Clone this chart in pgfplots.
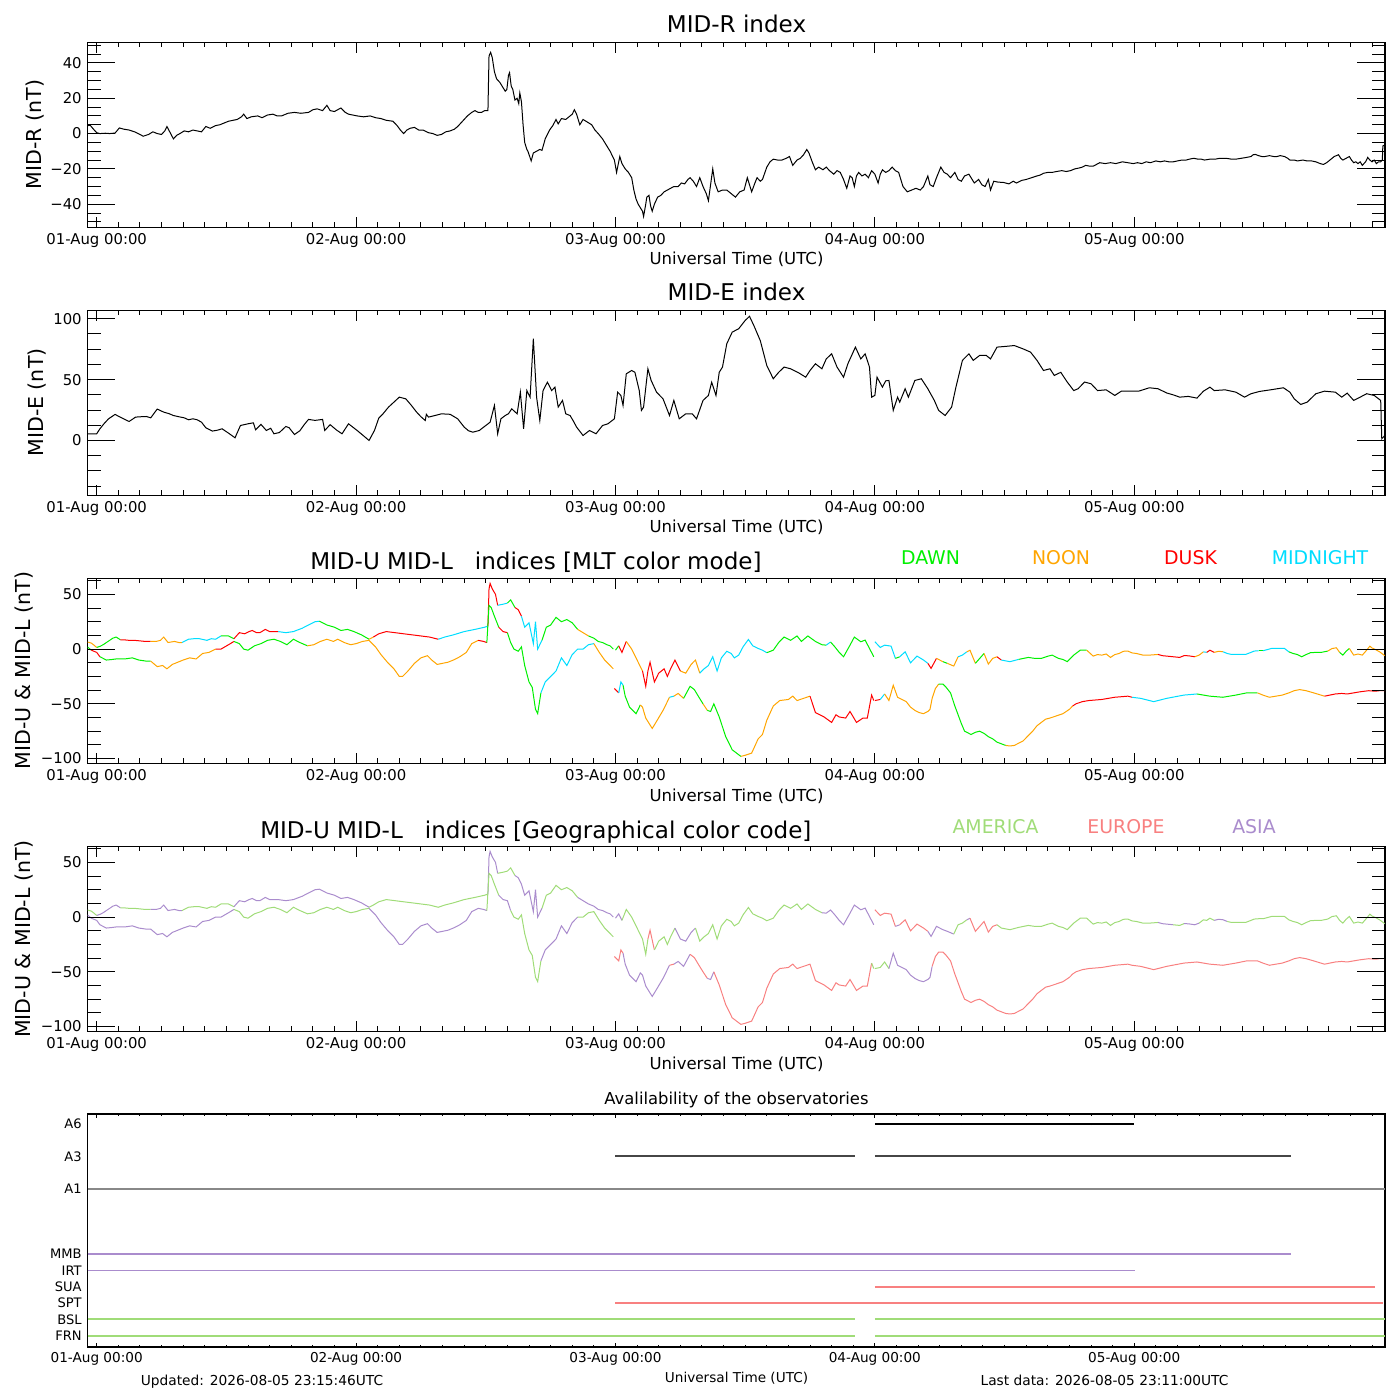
\documentclass[border=0pt]{standalone}
\usepackage{fontspec}
\setmainfont{DejaVu Sans}
\usepackage{pgfplots}
\pgfplotsset{compat=1.18}
\usepackage{pgfplotstable}
\definecolor{dawn}{RGB}{0,240,0}
\definecolor{noon}{RGB}{255,165,0}
\definecolor{dusk}{RGB}{255,0,0}
\definecolor{midnight}{RGB}{0,221,255}
\definecolor{america}{RGB}{160,220,120}
\definecolor{europe}{RGB}{248,128,128}
\definecolor{asia}{RGB}{170,140,205}
\definecolor{athree}{RGB}{70,70,70}
\definecolor{aone}{RGB}{136,136,136}

\pgfplotstableread{
h v
-0.85 4.5
-0.6 4.7
-0.3 2.5
0.0 0.5
0.3 0.0
0.8 0.2
1.2 0.0
1.7 0.3
2.1 3.2
2.5 2.5
3.0 2.0
3.5 1.0
4.0 -0.5
4.3 -1.5
4.8 -0.5
5.2 1.0
5.6 0.0
6.0 -0.5
6.3 1.5
6.5 4.0
6.8 0.5
7.1 -3.0
7.4 -1.0
7.7 0.0
8.1 1.5
8.5 1.0
8.9 2.0
9.3 1.5
9.7 1.0
10.1 4.0
10.5 3.0
11.0 4.5
11.4 5.0
11.8 6.0
12.2 7.0
12.6 7.5
13.0 8.0
13.4 9.5
13.6 11.0
13.9 8.5
14.3 9.5
14.9 10.0
15.3 9.0
15.8 10.5
16.3 11.0
16.7 10.0
17.1 10.0
17.7 11.5
18.3 12.0
18.9 11.5
19.6 12.0
20.0 13.5
20.4 14.0
20.9 13.0
21.3 16.0
21.6 13.0
22.0 12.5
22.6 14.5
23.0 12.0
23.3 11.0
23.7 10.5
24.1 10.0
24.7 9.5
25.3 10.0
25.8 9.0
26.3 8.5
26.8 7.5
27.4 7.0
27.8 4.5
28.1 2.0
28.4 0.0
28.7 2.0
29.0 3.0
29.4 3.5
29.8 2.0
30.2 2.0
30.7 0.5
31.1 0.0
31.5 -1.0
31.9 -0.5
32.3 1.0
32.7 1.5
33.1 2.5
33.4 4.0
33.7 6.0
34.0 8.0
34.3 10.0
34.7 12.0
35.0 13.0
35.3 12.0
35.6 12.0
35.9 13.0
36.2 13.0
36.3 44.0
36.45 46.0
36.6 43.0
36.8 35.0
37.0 31.0
37.3 29.0
37.5 27.0
37.8 24.0
37.95 25.0
38.1 33.0
38.2 34.5
38.35 27.0
38.5 25.0
38.7 19.0
38.9 20.0
39.05 17.0
39.15 23.0
39.3 18.0
39.45 5.0
39.6 -5.0
39.8 -9.0
39.9 -10.0
40.2 -15.5
40.4 -11.0
40.7 -10.0
41.0 -9.0
41.2 -9.5
41.5 -3.0
41.9 2.0
42.2 4.5
42.5 8.0
42.7 5.5
43.0 8.5
43.4 8.0
43.8 10.0
44.0 11.0
44.2 13.5
44.4 11.0
44.7 5.0
45.0 8.0
45.4 6.5
45.8 5.0
46.1 2.0
46.4 0.0
46.8 -3.0
47.1 -6.0
47.5 -10.0
47.9 -15.0
48.1 -22.0
48.4 -13.0
48.6 -17.0
48.9 -20.0
49.2 -22.0
49.5 -25.0
49.7 -32.0
49.9 -37.0
50.1 -40.0
50.3 -42.0
50.5 -44.0
50.6 -47.0
50.8 -40.0
50.9 -36.0
51.1 -35.0
51.25 -41.0
51.4 -44.0
51.6 -40.0
51.9 -36.0
52.2 -35.0
52.5 -33.0
52.8 -32.0
53.1 -31.0
53.4 -30.0
53.8 -30.0
54.1 -28.0
54.4 -28.5
54.7 -26.0
54.9 -25.0
55.2 -27.0
55.5 -30.0
55.8 -25.0
56.1 -30.0
56.4 -34.0
56.6 -38.0
56.8 -29.0
57.0 -20.0
57.2 -28.0
57.5 -33.0
57.9 -32.0
58.3 -32.0
58.7 -34.0
59.1 -36.0
59.5 -33.0
59.9 -32.0
60.2 -25.0
60.4 -29.0
60.6 -33.0
60.9 -28.0
61.1 -25.0
61.4 -27.0
61.6 -26.0
62.0 -19.0
62.3 -16.0
62.6 -14.5
63.0 -15.0
63.4 -15.0
63.8 -14.0
64.1 -13.0
64.4 -18.0
64.8 -15.0
65.1 -14.0
65.4 -12.0
65.7 -9.0
65.9 -11.0
66.2 -16.0
66.5 -20.5
66.8 -19.0
67.2 -20.5
67.5 -19.0
67.8 -21.0
68.2 -23.0
68.5 -21.0
68.8 -22.0
69.1 -26.0
69.4 -31.0
69.7 -24.0
69.9 -25.0
70.1 -30.0
70.3 -24.0
70.5 -22.0
70.8 -24.0
71.1 -23.0
71.4 -25.0
71.7 -21.0
72.0 -23.0
72.3 -28.0
72.5 -23.0
72.7 -20.5
73.0 -22.0
73.3 -21.0
73.6 -19.0
73.9 -21.0
74.2 -22.0
74.4 -26.0
74.6 -30.0
75.0 -33.0
75.4 -32.0
75.8 -31.0
76.2 -32.0
76.5 -30.0
76.9 -24.0
77.1 -29.0
77.4 -30.0
77.7 -25.0
78.1 -19.0
78.4 -22.0
78.7 -23.0
79.0 -25.0
79.4 -22.0
79.7 -26.0
80.0 -27.0
80.3 -24.0
80.7 -23.0
81.0 -26.0
81.2 -28.0
81.6 -26.0
81.9 -29.0
82.2 -30.0
82.5 -26.0
82.7 -32.0
83.0 -27.0
83.4 -27.5
83.9 -27.7
84.4 -28.5
84.8 -27.0
85.1 -28.0
85.6 -26.5
86.0 -26.0
86.5 -25.0
87.0 -24.0
87.3 -23.5
87.6 -22.5
88.0 -22.0
88.4 -22.0
88.8 -21.5
89.3 -21.0
89.7 -21.5
90.1 -21.0
90.5 -20.0
90.9 -19.5
91.2 -19.0
91.5 -18.0
91.9 -18.5
92.2 -18.5
92.5 -17.5
92.8 -16.5
93.3 -17.0
93.8 -16.5
94.3 -17.0
94.9 -16.0
95.4 -16.5
95.9 -17.0
96.3 -16.5
96.7 -17.0
97.1 -16.0
97.5 -16.5
98.0 -15.5
98.4 -16.0
98.8 -15.5
99.2 -16.0
99.6 -16.0
100.0 -15.5
100.4 -15.0
100.8 -15.0
101.1 -14.5
101.5 -14.0
101.9 -14.5
102.2 -14.5
102.5 -15.0
103.0 -14.5
103.5 -14.5
103.9 -14.0
104.5 -14.0
105.0 -14.5
105.4 -14.5
105.9 -14.0
106.4 -13.5
106.8 -13.0
107.0 -12.0
107.2 -11.8
107.5 -12.5
107.8 -13.0
108.1 -13.0
108.5 -12.5
108.9 -13.0
109.2 -13.0
109.5 -12.5
109.9 -13.0
110.2 -14.0
110.4 -15.0
110.8 -15.0
111.1 -15.5
111.6 -15.0
112.0 -15.5
112.4 -15.5
112.8 -16.0
113.2 -17.0
113.5 -17.5
113.8 -16.5
114.1 -15.0
114.5 -13.0
114.9 -12.0
115.1 -14.0
115.3 -15.0
115.6 -14.0
115.9 -13.0
116.1 -15.0
116.3 -16.5
116.5 -16.0
116.7 -17.0
116.9 -16.0
117.1 -18.0
117.4 -16.0
117.6 -13.5
117.8 -15.0
118.0 -16.0
118.2 -15.0
118.4 -17.0
118.6 -16.0
118.8 -16.0
118.95 -15.0
119.0 -7.0
119.18 -6.5
}\Rtab

\pgfplotstableread{
h v
-0.85 5.5
0.0 5.5
0.3 9.6
0.7 14
1.1 17.8
1.7 21.4
2.3 18.6
3.0 15.6
3.6 19.2
4.1 19.5
4.6 19.7
5.0 18.6
5.6 25.8
6.2 23.3
6.7 22
7.1 20.5
7.6 19.5
8.1 18.6
8.5 17
8.9 17.8
9.3 17
9.7 15
10.1 10.4
10.7 7.7
11.2 8.5
11.6 9.6
12.2 6
12.8 2.2
13.3 12.3
14.0 13.7
14.5 14.5
14.7 8.8
15.2 13.2
15.7 8.2
16.1 10
16.4 5.5
16.9 6.5
17.5 11.5
17.8 10.5
18.3 4.9
18.8 8
19.2 13
19.6 17.3
20.2 16.5
20.9 17.3
21.1 8.2
21.6 13
22.2 8.5
22.7 5.5
23.3 13.7
24.1 8.2
24.6 4.5
25.2 0
25.7 8.2
26.1 18.4
26.5 22
27.0 27.4
27.5 31.5
28.0 35.6
28.6 34.2
29.1 29
29.6 23.3
30.0 19.5
30.4 16.4
30.5 21.5
30.7 19.2
31.3 20.5
31.9 21.9
32.7 21.5
33.4 17.8
34.0 11
34.4 8
34.8 6.8
35.4 8.2
36.0 12.3
36.4 15
36.8 28.8
37.1 5.5
37.4 17.8
37.8 20.5
38.1 22
38.4 26
38.9 21.9
39.2 39.7
39.5 9.6
39.8 41
40.1 35.6
40.4 83.6
40.7 35.6
41.0 16.4
41.3 41
41.7 47.9
42.1 41
42.4 43.8
42.7 27.4
43.1 32.9
43.4 21.9
43.8 20.5
44.1 16
44.4 11
45.0 4.1
45.6 8.2
46.2 5.5
46.8 12.3
47.3 13.7
47.9 17.8
48.2 39.7
48.5 37
48.7 28.8
49.0 54.8
49.5 57.5
49.8 56
50.2 41
50.4 24.7
50.6 27.4
51.0 58.9
51.3 49.3
51.8 39.7
52.4 34.2
53.0 20.5
53.4 32.9
53.9 17.8
54.5 21.9
55.1 21.9
55.5 17.8
56.1 32.9
56.6 37
56.9 47.9
57.3 37
57.6 56
57.9 60.3
58.3 79.5
58.8 89
59.4 91.8
60.0 98.6
60.4 102
60.8 94.5
61.4 82
62.0 61.6
62.6 50.7
63.1 56
63.6 60.3
64.2 58.9
65.0 55.3
65.6 52
66.0 57.5
66.5 63
67.1 58.9
67.5 67
68.0 71.2
68.5 60.3
69.1 52
69.5 63
70.2 76.7
70.7 67
71.1 71.2
71.5 60.3
71.7 35.6
72.0 37
72.2 52
72.7 43.8
73.0 49
73.3 49.3
73.7 24.7
74.1 35.6
74.3 31.5
74.8 42.5
75.1 35.6
75.7 49.3
76.3 50.7
76.9 42.5
77.5 32.9
77.9 24.7
78.5 20.5
79.1 27.4
79.5 43.8
80.1 65.8
80.7 71.2
81.1 65.8
81.7 69.9
82.3 69.9
82.7 67
83.3 76.7
84.1 77.3
84.9 78
85.7 75.3
86.4 72.6
87.0 65.8
87.6 57.5
88.2 58.9
88.6 53.4
89.2 56
89.8 48
90.4 41
90.8 42.5
91.4 48
92.0 46.6
92.6 41
93.4 41.6
94.2 37
94.8 40.5
95.6 40.5
96.4 40.5
97.4 43.3
98.2 42.5
99.0 39
99.6 37.5
100.2 35.6
101.0 36.2
101.8 34.8
102.4 40.5
103.0 43.8
103.4 41
104.4 41.6
105.4 39.7
106.2 35.6
106.8 38.4
107.6 40.3
108.6 41.6
109.8 43.3
110.4 39.7
110.8 34.2
111.4 29.6
112.0 31.5
112.8 38.4
113.6 40.5
114.6 39.7
115.2 35.6
115.7 38.9
116.3 32.9
116.9 35.6
117.5 38.4
118.2 37
118.8 32.9
118.9 1.4
119.18 4
}\Etab

\pgfplotstableread{
h v
-0.85 6.5
-0.5 5.5
-0.3 4.0
0.0 1.5
0.3 2.5
0.6 4.0
0.9 6.0
1.2 8.0
1.5 10.0
1.8 11.0
2.2 8.5
2.5 8.5
3.0 8.0
3.5 8.0
4.0 7.5
4.5 7.0
5.0 7.0
5.5 7.0
5.9 8.0
6.2 11.0
6.6 6.0
7.2 7.0
7.6 6.0
7.9 6.0
8.5 9.0
9.0 9.5
9.5 9.5
10.2 8.0
10.6 9.5
11.0 9.0
11.5 12.0
12.2 12.0
12.7 9.5
13.2 15.0
13.7 14.0
14.1 16.0
14.4 17.0
14.8 15.0
15.1 15.0
15.6 18.0
16.0 16.0
16.3 16.0
16.8 16.0
17.5 15.0
18.2 16.0
18.6 17.5
19.0 19.0
19.6 22.0
20.2 25.0
20.6 25.5
21.0 23.5
21.3 22.0
22.0 20.0
22.6 17.0
23.2 18.0
23.8 16.0
24.5 13.0
25.2 9.0
25.6 11.0
26.1 14.0
26.8 16.0
27.6 15.0
28.4 14.0
29.2 13.0
30.0 12.0
30.8 11.0
31.6 9.0
32.2 11.0
33.0 13.0
34.0 16.0
35.0 18.0
35.9 20.0
36.2 21.0
36.3 55.0
36.4 60.0
36.6 55.0
36.9 50.0
37.1 40.0
37.6 41.0
38.0 42.0
38.3 45.0
38.7 38.0
39.0 36.0
39.3 30.0
39.6 20.0
40.0 24.0
40.4 5.0
40.6 25.0
40.8 0.0
41.2 8.0
41.6 20.0
42.0 22.0
42.5 29.0
43.0 25.0
43.5 27.0
44.0 24.0
44.5 18.0
45.0 15.0
45.5 12.0
46.0 10.0
46.4 7.0
46.8 6.0
47.2 4.0
47.5 3.0
47.8 0.0
47.85 nan
48.0 -1.0
48.3 3.0
48.6 -3.0
49.0 7.0
49.5 0.0
50.0 -10.0
50.5 -20.0
50.8 -34.0
51.0 -20.0
51.2 -12.0
51.6 -30.0
52.0 -22.0
52.5 -18.0
52.8 -25.0
53.1 -18.0
53.5 -10.0
54.0 -20.0
54.5 -22.0
55.0 -14.0
55.4 -10.0
55.8 -22.0
56.2 -18.0
56.6 -15.0
57.0 -7.0
57.4 -20.0
57.8 -8.0
58.3 -2.0
58.7 -4.0
59.0 -8.0
59.4 -5.5
59.8 2.0
60.3 8.8
60.7 3.0
61.2 0.6
61.6 -1.0
62.0 -3.3
62.6 -1.0
63.1 6.0
63.6 11.0
64.2 8.0
64.8 12.0
65.2 7.0
65.8 12.0
66.5 7.0
67.1 4.0
67.5 3.6
67.9 6.5
68.3 2.0
68.7 -3.0
69.1 -7.0
69.7 3.6
70.1 11.0
70.7 6.7
71.1 8.2
71.5 0.6
71.9 -7.0
71.95 nan
72.0 6.7
72.5 1.5
72.9 3.6
73.5 2.7
73.9 -8.5
74.3 -7.0
74.8 -2.5
75.3 -12.5
75.9 -6.4
76.5 -10.0
76.9 -13.0
77.2 -17.6
77.7 -8.5
78.3 -11.5
78.7 -13.0
79.3 -15.5
79.7 -7.0
80.1 -5.5
80.5 -2.5
80.8 -1.0
81.3 -13.0
81.7 -8.5
82.1 -4.0
82.5 -13.7
82.9 -8.5
83.3 -7.0
83.7 -10.0
84.5 -11.5
85.3 -9.4
86.2 -7.6
86.8 -8.5
87.4 -8.5
88.0 -6.5
88.4 -5.5
89.0 -8.5
89.4 -9.5
89.8 -11.5
90.4 -5.5
91.0 -1.0
91.6 -1.0
92.2 -6.4
92.6 -5.0
93.0 -5.5
93.4 -4.5
93.8 -7.6
94.2 -5.0
94.6 -4.0
95.0 -2.0
95.4 -1.8
95.8 -3.5
96.2 -4.0
96.8 -5.5
97.4 -5.5
98.2 -4.9
98.6 -6.0
99.0 -6.4
99.6 -7.0
100.2 -7.6
100.6 -6.0
101.0 -6.1
101.6 -7.0
102.0 -5.5
102.4 -2.5
102.7 -3.0
103.0 -1.0
103.4 -3.0
103.8 -2.0
104.2 -2.4
104.6 -4.0
105.0 -4.9
105.7 -4.9
106.3 -4.9
106.8 -3.0
107.1 -1.8
107.5 -1.5
107.9 -1.5
108.3 -0.5
108.7 0.6
109.3 0.6
109.9 0.6
110.3 -2.5
110.7 -4.0
111.1 -5.0
111.5 -7.0
111.9 -5.0
112.3 -3.3
112.8 -3.0
113.3 -3.0
113.9 -1.8
114.3 0.5
114.7 1.2
115.0 -3.0
115.3 -5.5
115.6 -2.0
115.9 0.6
116.3 -5.5
116.7 -4.5
117.1 -5.5
117.5 -1.0
117.8 2.7
118.0 1.0
118.3 -0.3
118.7 -2.5
119.18 -6.0
}\Utab

\pgfplotstableread{
h v
-0.85 2.0
-0.5 -1.0
0.0 -3.0
0.3 -7.0
0.9 -10.0
1.4 -9.5
1.8 -9.0
2.6 -9.0
3.3 -8.0
3.9 -10.0
4.6 -11.0
5.0 -11.0
5.6 -16.0
6.1 -15.0
6.5 -18.0
7.0 -14.0
7.5 -12.0
8.0 -10.0
8.6 -8.0
9.2 -9.0
9.8 -4.0
10.4 -3.0
11.0 0.0
11.5 0.0
12.2 4.0
12.7 7.0
13.2 5.0
13.6 0.0
14.0 -1.0
14.6 3.0
15.2 5.0
15.8 8.0
16.4 9.0
17.0 7.0
17.6 4.0
18.2 9.0
18.8 6.0
19.5 3.0
20.1 4.0
20.7 7.0
21.3 9.0
21.9 7.0
22.3 9.0
22.9 6.0
23.5 4.0
24.0 5.0
24.6 7.0
25.2 8.0
25.8 2.0
26.3 -5.0
26.9 -12.0
27.5 -18.0
28.0 -25.0
28.3 -25.0
28.8 -20.0
29.4 -13.0
30.0 -8.0
30.6 -6.0
31.0 -10.0
31.5 -14.0
32.0 -13.0
32.5 -12.0
33.0 -10.0
33.6 -7.0
34.2 -3.0
34.7 5.0
35.3 8.0
35.8 7.0
36.1 6.0
36.3 40.0
36.5 38.0
36.8 30.0
37.2 20.0
37.6 16.0
38.0 15.0
38.3 6.0
38.6 0.0
39.0 -2.0
39.3 2.0
39.6 -15.0
40.0 -30.0
40.3 -35.0
40.6 -55.0
40.8 -59.0
41.1 -40.0
41.5 -30.0
42.0 -25.0
42.5 -20.0
43.0 -8.0
43.5 -15.0
44.0 -5.0
44.5 0.0
45.0 0.0
45.5 4.0
46.0 5.0
46.5 -3.0
47.0 -10.0
47.4 -14.0
47.8 -18.0
47.85 nan
47.9 -36.0
48.3 -40.0
48.5 -30.0
48.7 -33.0
48.9 -43.0
49.3 -53.0
49.9 -59.0
50.3 -51.0
50.5 -53.0
50.8 -63.0
51.4 -72.5
51.8 -66.0
52.4 -56.0
53.0 -44.0
53.4 -43.0
53.8 -40.5
54.3 -45.0
54.9 -34.0
55.3 -37.0
55.7 -43.6
56.1 -50.0
56.5 -56.0
56.8 -57.0
57.1 -50.0
57.6 -62.0
58.2 -80.0
58.8 -92.0
59.6 -98.0
60.0 -97.0
60.6 -95.0
61.2 -82.0
61.6 -78.0
62.0 -65.0
62.6 -52.0
63.2 -47.0
64.0 -46.0
64.4 -43.0
64.8 -47.0
65.4 -45.0
66.0 -43.0
66.5 -58.0
67.3 -62.0
68.0 -67.0
68.4 -60.0
68.7 -62.0
69.3 -63.0
69.7 -57.0
70.3 -67.0
70.9 -63.0
71.3 -63.0
71.7 -42.0
71.9 -47.0
71.95 nan
72.0 -47.0
72.5 -46.0
72.9 -41.0
73.3 -47.0
73.7 -33.0
74.1 -44.0
74.5 -46.0
74.9 -48.0
75.3 -53.0
75.7 -56.0
76.1 -58.0
76.5 -59.0
76.9 -57.0
77.1 -55.0
77.3 -45.0
77.6 -36.0
77.9 -32.0
78.3 -32.0
78.6 -35.0
79.0 -40.0
79.4 -52.0
79.7 -60.0
80.0 -68.0
80.3 -75.0
80.9 -78.0
81.3 -76.0
81.7 -75.0
82.1 -77.0
82.5 -80.0
82.9 -82.0
83.3 -85.0
83.7 -86.5
84.1 -88.0
84.5 -88.5
84.9 -88.0
85.3 -86.0
85.7 -84.0
86.1 -80.0
86.6 -75.0
87.0 -70.0
87.4 -67.0
87.8 -64.0
88.2 -63.0
88.8 -61.0
89.4 -59.0
90.0 -55.0
90.3 -52.0
90.6 -50.0
91.2 -48.0
91.8 -47.0
92.4 -46.5
93.0 -46.0
93.6 -45.0
94.2 -44.0
94.8 -43.5
95.4 -43.0
95.8 -44.0
96.2 -44.5
96.6 -45.0
97.2 -46.5
97.8 -48.0
98.4 -46.5
99.0 -45.0
99.8 -43.5
100.6 -42.0
101.2 -41.5
101.8 -41.0
102.4 -42.0
103.0 -43.0
103.6 -43.5
104.2 -44.0
104.8 -43.0
105.4 -42.0
105.9 -41.0
106.4 -40.0
106.9 -40.0
107.4 -40.0
107.9 -42.0
108.5 -44.0
109.1 -43.0
109.7 -42.0
110.3 -40.0
110.8 -38.0
111.3 -37.0
111.9 -38.0
112.6 -40.0
113.1 -41.5
113.6 -43.0
114.1 -42.0
114.6 -41.0
115.2 -40.5
115.7 -41.0
116.3 -40.0
116.9 -39.0
117.3 -38.5
117.7 -38.0
118.3 -38.5
118.7 -38.0
119.18 -38.0
}\Ltab

\newcommand{\seg}[4]{\addplot[#4, line width=0.72pt, restrict x to domain=#2:#3, unbounded coords=jump] table[x index=0, y index=1] {#1};}

\pgfplotsset{
  base/.style={
    scale only axis, width=934.2pt, height=133.2pt,
    xmin=-0.85, xmax=119.2,
    axis line style={line width=0.8pt},
    tick align=inside, tick pos=both,
    tick style={black, line width=0.7pt},
    xtick={0,24,48,72,96},
    minor xtick={2,4,...,118},
    xticklabels={01-Aug 00:00,02-Aug 00:00,03-Aug 00:00,04-Aug 00:00,05-Aug 00:00},
    xticklabel style={font=\fontsize{10.7}{12}\selectfont, anchor=base, yshift=-11.9pt},
    yticklabel style={font=\fontsize{10.7}{12}\selectfont, anchor=east, inner sep=0pt, xshift=-4pt},
    major tick length=7.9pt, minor tick length=3.6pt,
    anchor=south west,
  },
  over/.style={
    scale only axis, width=934.2pt, height=133.2pt,
    xmin=-0.85, xmax=119.2,
    axis line style={draw=none},
    tick align=inside, tick pos=both,
    tick style={black, line width=0.7pt},
    xtick=\empty, yticklabels={},
    major tick length=20pt, minor tick length=9.6pt,
    anchor=south west,
  },
}

\newcommand{\tfont}{\fontsize{16.6}{20}\selectfont}
\newcommand{\lfont}{\fontsize{13.6}{16}\selectfont}
\newcommand{\xlfont}{\fontsize{11.9}{14}\selectfont}
\newcommand{\ylfont}{\fontsize{14.8}{17}\selectfont}

\begin{document}
\begin{tikzpicture}
\path[use as bounding box] (0pt,0pt) rectangle (1008pt,1008pt);

% Panel 1: MID-R
\begin{axis}[base, at={(63pt,844.2pt)}, ymin=-53.2, ymax=51.6,
  ytick={-40,-20,0,20,40}, yticklabels={−40,−20,0,20,40},
  minor ytick={-50,-45,-35,-30,-25,-15,-10,-5,5,10,15,25,30,35,45,50}]
\addplot[black, line width=0.72pt] table[x index=0, y index=1] {\Rtab};
\end{axis}
\begin{axis}[over, at={(63pt,844.2pt)}, ymin=-53.2, ymax=51.6,
  ytick={-40,-20,0,20,40},
  minor ytick={-50,-45,-35,-30,-25,-15,-10,-5,5,10,15,25,30,35,45,50}]
\end{axis}

% Panel 2: MID-E
\begin{axis}[base, at={(63pt,651.24pt)}, ymin=-45.2, ymax=106.8,
  ytick={0,50,100}, yticklabels={0,50,100},
  minor ytick={-37.5,-25,-12.5,12.5,25,37.5,62.5,75,87.5}]
\addplot[black, line width=0.72pt] table[x index=0, y index=1] {\Etab};
\end{axis}
\begin{axis}[over, at={(63pt,651.24pt)}, ymin=-45.2, ymax=106.8,
  ytick={0,50,100},
  minor ytick={-37.5,-25,-12.5,12.5,25,37.5,62.5,75,87.5}]
\end{axis}

% Panel 3: MLT colour mode
\begin{axis}[base, at={(63pt,458.28pt)}, ymin=-104.5, ymax=64.5,
  ytick={-100,-50,0,50}, yticklabels={−100,−50,0,50},
  minor ytick={-87.5,-75,-62.5,-37.5,-25,-12.5,12.5,25,37.5,62.5}]
\seg{\Utab}{-0.85}{0.0}{noon}
\seg{\Utab}{0.0}{2.2}{dawn}
\seg{\Utab}{2.2}{5.0}{dusk}
\seg{\Utab}{5.0}{7.9}{noon}
\seg{\Utab}{7.9}{11.5}{midnight}
\seg{\Utab}{11.5}{12.7}{dawn}
\seg{\Utab}{12.7}{16.8}{dusk}
\seg{\Utab}{16.8}{20.6}{midnight}
\seg{\Utab}{20.6}{25.2}{dawn}
\seg{\Utab}{25.2}{25.6}{noon}
\seg{\Utab}{25.6}{31.6}{dusk}
\seg{\Utab}{31.6}{36.2}{midnight}
\seg{\Utab}{36.2}{37.1}{dusk}
\seg{\Utab}{37.1}{38.0}{midnight}
\seg{\Utab}{38.0}{38.7}{dawn}
\seg{\Utab}{38.7}{39.3}{dusk}
\seg{\Utab}{39.3}{41.2}{midnight}
\seg{\Utab}{41.2}{44.5}{dawn}
\seg{\Utab}{44.5}{45.5}{noon}
\seg{\Utab}{45.5}{47.8}{dawn}
\seg{\Utab}{48.0}{48.3}{dawn}
\seg{\Utab}{48.3}{49.0}{dusk}
\seg{\Utab}{49.0}{50.5}{noon}
\seg{\Utab}{50.5}{54.0}{dusk}
\seg{\Utab}{54.0}{55.8}{noon}
\seg{\Utab}{55.8}{62.0}{midnight}
\seg{\Utab}{62.0}{67.5}{dawn}
\seg{\Utab}{67.5}{67.9}{midnight}
\seg{\Utab}{67.9}{71.9}{dawn}
\seg{\Utab}{72.0}{73.9}{midnight}
\seg{\Utab}{73.9}{74.3}{dawn}
\seg{\Utab}{74.3}{76.9}{midnight}
\seg{\Utab}{76.9}{77.7}{dusk}
\seg{\Utab}{77.7}{78.3}{noon}
\seg{\Utab}{78.3}{78.7}{dawn}
\seg{\Utab}{78.7}{79.7}{noon}
\seg{\Utab}{79.7}{80.5}{midnight}
\seg{\Utab}{80.5}{81.3}{noon}
\seg{\Utab}{81.3}{82.1}{dawn}
\seg{\Utab}{82.1}{83.3}{noon}
\seg{\Utab}{83.3}{83.7}{dusk}
\seg{\Utab}{83.7}{85.3}{midnight}
\seg{\Utab}{85.3}{91.6}{dawn}
\seg{\Utab}{91.6}{98.2}{noon}
\seg{\Utab}{98.2}{101.6}{dusk}
\seg{\Utab}{101.6}{102.4}{noon}
\seg{\Utab}{102.4}{102.7}{midnight}
\seg{\Utab}{102.7}{103.4}{dusk}
\seg{\Utab}{103.4}{104.2}{noon}
\seg{\Utab}{104.2}{107.5}{midnight}
\seg{\Utab}{107.5}{107.9}{dawn}
\seg{\Utab}{107.9}{110.3}{midnight}
\seg{\Utab}{110.3}{113.9}{dawn}
\seg{\Utab}{113.9}{115.0}{noon}
\seg{\Utab}{115.0}{115.9}{dawn}
\seg{\Utab}{115.9}{119.2}{noon}
\seg{\Ltab}{-0.85}{-0.5}{dawn}
\seg{\Ltab}{-0.5}{0.3}{dusk}
\seg{\Ltab}{0.3}{5.0}{dawn}
\seg{\Ltab}{5.0}{11.0}{noon}
\seg{\Ltab}{11.0}{12.7}{dusk}
\seg{\Ltab}{12.7}{19.5}{dawn}
\seg{\Ltab}{19.5}{35.3}{noon}
\seg{\Ltab}{35.3}{36.1}{dusk}
\seg{\Ltab}{36.1}{37.2}{dawn}
\seg{\Ltab}{37.2}{38.0}{dusk}
\seg{\Ltab}{38.0}{41.1}{dawn}
\seg{\Ltab}{41.1}{46.0}{midnight}
\seg{\Ltab}{46.0}{47.8}{noon}
\seg{\Ltab}{47.9}{48.3}{dusk}
\seg{\Ltab}{48.3}{48.7}{midnight}
\seg{\Ltab}{48.7}{50.3}{dawn}
\seg{\Ltab}{50.3}{53.0}{noon}
\seg{\Ltab}{53.0}{53.4}{midnight}
\seg{\Ltab}{53.4}{54.3}{noon}
\seg{\Ltab}{54.3}{56.1}{dawn}
\seg{\Ltab}{56.1}{56.5}{noon}
\seg{\Ltab}{56.5}{59.6}{dawn}
\seg{\Ltab}{59.6}{66.0}{noon}
\seg{\Ltab}{66.0}{71.9}{dusk}
\seg{\Ltab}{72.0}{72.5}{dusk}
\seg{\Ltab}{72.5}{72.9}{midnight}
\seg{\Ltab}{72.9}{77.9}{noon}
\seg{\Ltab}{77.9}{84.1}{dawn}
\seg{\Ltab}{84.1}{90.3}{noon}
\seg{\Ltab}{90.3}{95.8}{dusk}
\seg{\Ltab}{95.8}{101.8}{midnight}
\seg{\Ltab}{101.8}{107.4}{dawn}
\seg{\Ltab}{107.4}{113.6}{noon}
\seg{\Ltab}{113.6}{119.2}{dusk}
\end{axis}
\begin{axis}[over, at={(63pt,458.28pt)}, ymin=-104.5, ymax=64.5,
  ytick={-100,-50,0,50},
  minor ytick={-87.5,-75,-62.5,-37.5,-25,-12.5,12.5,25,37.5,62.5}]
\end{axis}

% Panel 4: geographical colour code
\begin{axis}[base, at={(63pt,265.32pt)}, ymin=-104.5, ymax=64.5,
  ytick={-100,-50,0,50}, yticklabels={−100,−50,0,50},
  minor ytick={-87.5,-75,-62.5,-37.5,-25,-12.5,12.5,25,37.5,62.5}]
\seg{\Utab}{-0.85}{0.0}{america}
\seg{\Utab}{0.0}{2.2}{asia}
\seg{\Utab}{2.2}{5.0}{america}
\seg{\Utab}{5.0}{7.9}{asia}
\seg{\Utab}{7.9}{12.7}{america}
\seg{\Utab}{12.7}{25.2}{asia}
\seg{\Utab}{25.2}{36.2}{america}
\seg{\Utab}{36.2}{37.1}{asia}
\seg{\Utab}{37.1}{38.7}{america}
\seg{\Utab}{38.7}{41.2}{asia}
\seg{\Utab}{41.2}{44.5}{america}
\seg{\Utab}{44.5}{47.8}{asia}
\seg{\Utab}{48.0}{48.6}{asia}
\seg{\Utab}{48.6}{51.0}{america}
\seg{\Utab}{51.0}{51.6}{europe}
\seg{\Utab}{51.6}{53.5}{america}
\seg{\Utab}{53.5}{55.4}{asia}
\seg{\Utab}{55.4}{67.1}{america}
\seg{\Utab}{67.1}{71.9}{asia}
\seg{\Utab}{72.0}{73.9}{europe}
\seg{\Utab}{73.9}{74.3}{asia}
\seg{\Utab}{74.3}{76.9}{europe}
\seg{\Utab}{76.9}{79.3}{asia}
\seg{\Utab}{79.3}{80.5}{america}
\seg{\Utab}{80.5}{80.8}{asia}
\seg{\Utab}{80.8}{83.3}{europe}
\seg{\Utab}{83.3}{98.2}{america}
\seg{\Utab}{98.2}{99.6}{asia}
\seg{\Utab}{99.6}{100.6}{america}
\seg{\Utab}{100.6}{102.0}{asia}
\seg{\Utab}{102.0}{103.4}{america}
\seg{\Utab}{103.4}{104.6}{asia}
\seg{\Utab}{104.6}{119.2}{america}
\seg{\Ltab}{-0.85}{12.7}{asia}
\seg{\Ltab}{12.7}{25.2}{america}
\seg{\Ltab}{25.2}{36.1}{asia}
\seg{\Ltab}{36.1}{37.2}{america}
\seg{\Ltab}{37.2}{38.3}{asia}
\seg{\Ltab}{38.3}{41.1}{america}
\seg{\Ltab}{41.1}{44.5}{asia}
\seg{\Ltab}{44.5}{47.8}{america}
\seg{\Ltab}{47.9}{48.7}{europe}
\seg{\Ltab}{48.7}{53.0}{asia}
\seg{\Ltab}{53.0}{53.4}{europe}
\seg{\Ltab}{53.4}{54.9}{asia}
\seg{\Ltab}{54.9}{56.5}{europe}
\seg{\Ltab}{56.5}{57.1}{asia}
\seg{\Ltab}{57.1}{71.7}{europe}
\seg{\Ltab}{71.7}{73.3}{america}
\seg{\Ltab}{73.3}{77.3}{asia}
\seg{\Ltab}{77.3}{119.2}{europe}
\end{axis}
\begin{axis}[over, at={(63pt,265.32pt)}, ymin=-104.5, ymax=64.5,
  ytick={-100,-50,0,50},
  minor ytick={-87.5,-75,-62.5,-37.5,-25,-12.5,12.5,25,37.5,62.5}]
\end{axis}

% Panel 5: availability
\begin{axis}[base, at={(63pt,38.16pt)}, height=167.76pt, ymin=-0.69, ymax=13.6,
  ytick={0,1,2,3,4,5,9,11,13}, yticklabels={FRN,BSL,SPT,SUA,IRT,MMB,A1,A3,A6},
  yticklabel style={font=\fontsize{9.4}{11}\selectfont},
  xticklabel style={font=\fontsize{9.8}{11}\selectfont, yshift=0.8pt},
  major tick length=3pt, minor tick length=1.6pt,
  ytick style={draw=none}]
\addplot[black, line width=1.5pt] coordinates {(72,13) (96,13)};
\addplot[athree, line width=1.5pt] coordinates {(48,11) (70.16,11)};
\addplot[athree, line width=1.5pt] coordinates {(72,11) (110.5,11)};
\addplot[aone, line width=1.3pt] coordinates {(-0.85,9) (119.2,9)};
\addplot[asia, line width=1.4pt] coordinates {(-0.85,5) (110.5,5)};
\addplot[asia, line width=1.4pt] coordinates {(-0.85,4) (96.05,4)};
\addplot[europe, line width=1.4pt] coordinates {(72,3) (118.3,3)};
\addplot[europe, line width=1.4pt] coordinates {(48,2) (119.0,2)};
\addplot[america, line width=1.4pt] coordinates {(-0.85,1) (70.16,1)};
\addplot[america, line width=1.4pt] coordinates {(72,1) (119.2,1)};
\addplot[america, line width=1.4pt] coordinates {(-0.85,0) (70.16,0)};
\addplot[america, line width=1.4pt] coordinates {(72,0) (119.2,0)};
\end{axis}

% Texts
\begin{scope}[x=0.72pt, y=-0.72pt, shift={(0pt,1008pt)}]
\node[anchor=base, inner sep=0pt, font=\tfont] at (736.5,33) {MID-R index};
\node[anchor=base, inner sep=0pt, font=\tfont] at (736.5,301) {MID-E index};
\node[anchor=base west, inner sep=0pt, font=\tfont] at (310,570) {MID-U MID-L\ \ \ indices [MLT color mode]};
\node[anchor=base west, inner sep=0pt, font=\tfont] at (260,839) {MID-U MID-L\ \ \ indices [Geographical color code]};
\node[anchor=base, inner sep=0pt, font=\lfont, text=dawn] at (930.5,565) {DAWN};
\node[anchor=base, inner sep=0pt, font=\lfont, text=noon] at (1061,565) {NOON};
\node[anchor=base, inner sep=0pt, font=\lfont, text=dusk] at (1190.5,565) {DUSK};
\node[anchor=base, inner sep=0pt, font=\lfont, text=midnight] at (1320,565) {MIDNIGHT};
\node[anchor=base, inner sep=0pt, font=\lfont, text=america] at (995.5,834) {AMERICA};
\node[anchor=base, inner sep=0pt, font=\lfont, text=europe] at (1126,834) {EUROPE};
\node[anchor=base, inner sep=0pt, font=\lfont, text=asia] at (1254,834) {ASIA};
\foreach \yy in {265,533,802,1070} {
  \node[anchor=base, inner sep=0pt, font=\xlfont] at (736.5,\yy) {Universal Time (UTC)};
}
\node[anchor=base, inner sep=0pt, font=\ylfont, rotate=90] at (41,134.5) {MID-R (nT)};
\node[anchor=base, inner sep=0pt, font=\ylfont, rotate=90] at (43.5,402.5) {MID-E (nT)};
\node[anchor=base, inner sep=0pt, font=\ylfont, rotate=90] at (30.5,670.5) {MID-U \& MID-L (nT)};
\node[anchor=base, inner sep=0pt, font=\ylfont, rotate=90] at (30.5,939) {MID-U \& MID-L (nT)};
\node[anchor=base, inner sep=0pt, font=\fontsize{11.8}{14}\selectfont] at (736.5,1105) {Avalilability of the observatories};
\node[anchor=base, inner sep=0pt, font=\fontsize{9.8}{12}\selectfont] at (736.5,1382) {Universal Time (UTC)};
\node[anchor=base, inner sep=0pt, font=\fontsize{9.9}{12}\selectfont] at (262,1385.5) {Updated: 2026-08-05 23:15:46UTC};
\node[anchor=base, inner sep=0pt, font=\fontsize{9.9}{12}\selectfont] at (1104.5,1385.5) {Last data: 2026-08-05 23:11:00UTC};
\end{scope}
\end{tikzpicture}
\end{document}
